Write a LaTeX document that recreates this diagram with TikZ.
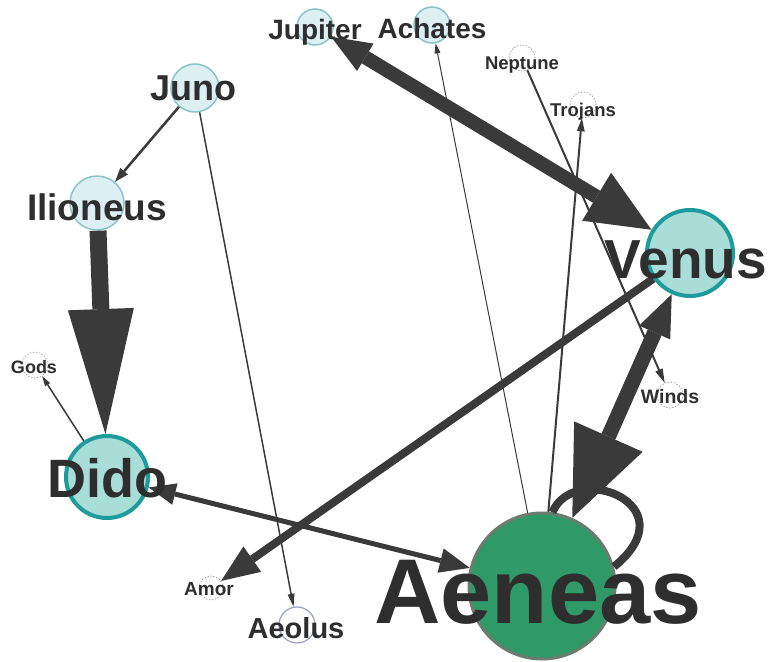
\documentclass[tikz,border=0pt]{standalone}
\usepackage{fontspec}
\setmainfont{Liberation Sans}
\usetikzlibrary{arrows.meta}
\definecolor{edgec}{HTML}{3A3A3A}
\definecolor{lightfill}{HTML}{DCEFF3}
\definecolor{lightline}{HTML}{8CC3C8}
\definecolor{bluefill}{HTML}{A8DDD8}
\definecolor{blueline}{HTML}{1E9C9C}
\definecolor{greenfill}{HTML}{2F9A68}
\definecolor{greenline}{HTML}{6B7B70}
\definecolor{dashline}{HTML}{A0A0A0}
\definecolor{aeolusline}{HTML}{9AA0C0}
\definecolor{textc}{HTML}{2E2E2E}
\tikzset{
  lnode/.style={circle, draw=lightline, line width=1.5pt, fill=lightfill, inner sep=0pt},
  dnode/.style={circle, draw=dashline, dash pattern=on 1.5pt off 1.5pt, line width=0.7pt, fill=white, inner sep=0pt},
  anode/.style={circle, draw=aeolusline, line width=1.2pt, fill=white, inner sep=0pt},
  bnode/.style={circle, draw=blueline, line width=4pt, fill=bluefill, inner sep=0pt},
  gnode/.style={circle, draw=greenline, line width=3pt, fill=greenfill, inner sep=0pt},
  edge/.style={draw=edgec, line cap=butt},
  lbl/.style={text=textc, inner sep=0pt, anchor=base},
}
\newcommand{\tip}[2]{Triangle[length=#1pt,width=#2pt,line width=0pt,fill=edgec]}
\begin{document}
\begin{tikzpicture}[x=1pt,y=-1pt]
\useasboundingbox (0,0) rectangle (773,661);
% nodes
\node[lnode, minimum size=36pt] (Jupiter) at (315,27) {};
\node[lnode, minimum size=36pt] (Achates) at (432,25) {};
\node[dnode, minimum size=26pt] (Neptune) at (522,58) {};
\node[dnode, minimum size=26pt] (Trojans) at (583,105) {};
\node[lnode, minimum size=48pt] (Juno) at (195,88) {};
\node[lnode, minimum size=54pt] (Ilioneus) at (97,203) {};
\node[bnode, minimum size=86pt] (Venus) at (690,253) {};
\node[dnode, minimum size=26pt] (Gods) at (35,365) {};
\node[dnode, minimum size=26pt] (Winds) at (670,395) {};
\node[bnode, minimum size=82pt] (Dido) at (107,477) {};
\node[gnode, minimum size=146pt] (Aeneas) at (542,586) {};
\node[dnode, minimum size=24pt] (Amor) at (211,588) {};
\node[anode, minimum size=36pt] (Aeolus) at (297,625) {};
% edges
\draw[edge, line width=2.5pt, -{\tip{14}{10}}] (Juno) -- (Ilioneus);
\draw[edge, line width=1.5pt, -{\tip{13}{7}}] (Juno) -- (Aeolus);
\draw[edge, line width=17pt, -{\tip{125}{66}}] (Ilioneus) -- (Dido);
\draw[edge, line width=1.5pt, -{\tip{10}{6}}] (Dido) -- (Gods);
\draw[edge, line width=1pt, -{\tip{10}{6}}] (Aeneas) -- (Achates);
\draw[edge, line width=2pt, -{\tip{13}{8}}] (Aeneas) -- (Trojans);
\draw[edge, line width=2pt, -{\tip{14}{8}}] (Neptune) -- (Winds);
\draw[edge, line width=14pt, {\tip{40}{32}}-{\tip{64}{56}}] (Jupiter) -- (Venus);
\draw[edge, line width=8pt, -{\tip{38}{31}}] (Venus) -- (Amor);
\draw[edge, line width=5pt, {\tip{27}{22}}-{\tip{30}{25}}] (Dido) -- (Aeneas);
\draw[edge, line width=8pt] (Aeneas.82) .. controls (575,460) and (690,505) .. (Aeneas.15);
\draw[edge, line width=15pt, {\tip{42}{34}}-{\tip{89}{75}}] (Venus) -- (Aeneas);
% labels
\node[lbl, font=\bfseries\fontsize{28}{28}\selectfont] (tJupiter) at (315,40) {Jupiter};
\node[lbl, font=\bfseries\fontsize{28}{28}\selectfont] (tAchates) at (432,39) {Achates};
\node[lbl, font=\bfseries\fontsize{18.5}{18.5}\selectfont] (tNeptune) at (522,70) {Neptune};
\node[lbl, font=\bfseries\fontsize{18.5}{18.5}\selectfont] (tTrojans) at (583,116) {Trojans};
\node[lbl, font=\bfseries\fontsize{36}{36}\selectfont] (tJuno) at (193,100) {Juno};
\node[lbl, font=\bfseries\fontsize{37}{37}\selectfont] (tIlioneus) at (97,220) {Ilioneus};
\node[lbl, font=\bfseries\fontsize{55}{55}\selectfont] (tVenus) at (686,278) {Venus};
\node[lbl, font=\bfseries\fontsize{18}{18}\selectfont] (tGods) at (34,373) {Gods};
\node[lbl, font=\bfseries\fontsize{54}{54}\selectfont] (tDido) at (107,497) {Dido};
\node[lbl, font=\bfseries\fontsize{19.5}{19.5}\selectfont] (tWinds) at (670,403) {Winds};
\node[lbl, font=\bfseries\fontsize{92}{92}\selectfont] (tAeneas) at (538,623) {Aeneas};
\node[lbl, font=\bfseries\fontsize{19}{19}\selectfont] (tAmor) at (209,595) {Amor};
\node[lbl, font=\bfseries\fontsize{29}{29}\selectfont] (tAeolus) at (296,638) {Aeolus};
\end{tikzpicture}
\end{document}
